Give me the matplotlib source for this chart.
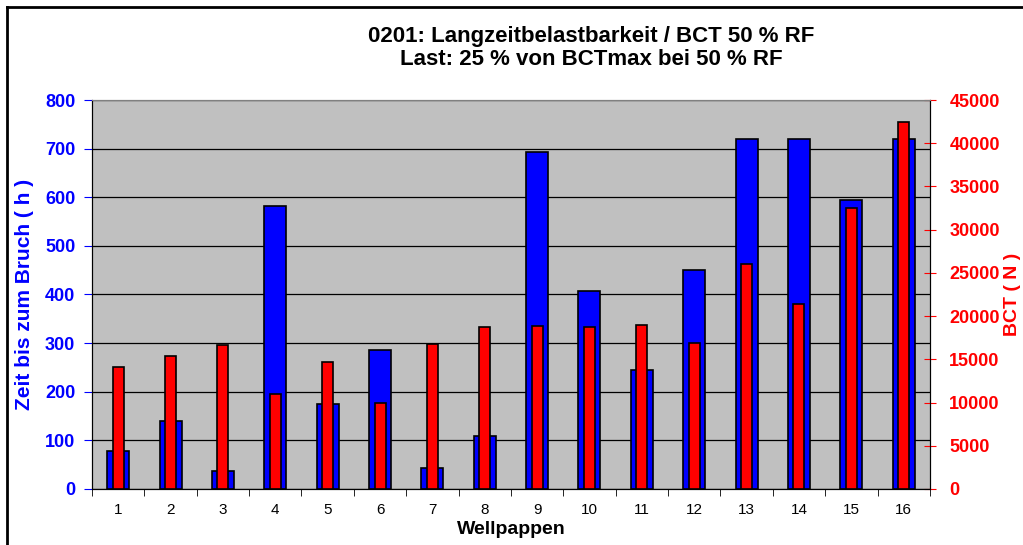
import numpy as np
import matplotlib.pyplot as plt
from matplotlib.lines import Line2D

plt.rcParams['font.family'] = ['Liberation Sans', 'DejaVu Sans']

# data
wellpappen = [str(i) for i in range(1, 17)]
zeit_h = [78, 140, 37, 582, 175, 285, 44, 108, 694, 408, 244, 450, 720, 720, 594, 720]
bct_n = [14150, 15390, 16630, 10980, 14700, 9980, 16790, 18720,
         18870, 18790, 18990, 16900, 26070, 21430, 32560, 42460]

fig = plt.figure(figsize=(10.23, 5.45), dpi=100)
ax = fig.add_axes([0.0899, 0.1028, 0.8191, 0.7137])
ax.set_facecolor('#C0C0C0')

x = np.arange(len(wellpappen))
ax.bar(x, zeit_h, width=0.42, color='#0000FF', edgecolor='black', linewidth=1.2, zorder=3)
ax.set_xlim(-0.5, len(wellpappen) - 0.5)
ax.set_ylim(0, 800)
ax.set_yticks(range(0, 801, 100))
ax.yaxis.grid(True, color='black', linewidth=0.9, zorder=0)
ax.set_axisbelow(True)
ax.tick_params(axis='y', colors='#0000FF', labelsize=13, direction='out', length=6, pad=6)
for lab in ax.get_yticklabels():
    lab.set_fontweight('bold')
ax.set_xticks(x)
ax.set_xticklabels(wellpappen, fontsize=11)
ax.set_xticks(np.arange(-0.5, len(wellpappen)), minor=True)
ax.tick_params(axis='x', which='major', length=0, pad=10)
ax.tick_params(axis='x', which='minor', length=5, direction='out')
ax.set_xlabel('Wellpappen', fontsize=14, fontweight='bold', labelpad=3)
ax.set_ylabel('Zeit bis zum Bruch ( h )', color='#0000FF', fontsize=15, fontweight='bold', labelpad=8)

ax2 = ax.twinx()
ax2.bar(x, bct_n, width=0.21, color='#FF0000', edgecolor='black', linewidth=1.2, zorder=3)
ax2.set_ylim(0, 45000)
ax2.set_yticks(range(0, 45001, 5000))
ax2.tick_params(axis='y', colors='#FF0000', labelsize=13, direction='inout', length=8, pad=10)
for lab in ax2.get_yticklabels():
    lab.set_fontweight('bold')
ax2.set_ylabel('BCT ( N )', color='#FF0000', fontsize=14, fontweight='bold', labelpad=3)

for a in (ax, ax2):
    for s in a.spines.values():
        s.set_color('#808080')
    a.spines['bottom'].set_color('black')
    a.spines['right'].set_color('black')
    a.spines['left'].set_color('black')

fig.text(0.578, 0.933, '0201: Langzeitbelastbarkeit / BCT 50 % RF', ha='center', va='center',
         fontsize=16, fontweight='bold')
fig.text(0.578, 0.891, 'Last: 25 % von BCTmax bei 50 % RF', ha='center', va='center',
         fontsize=16, fontweight='bold')

# outer frame (top and left edges only visible)
fig.lines.append(Line2D([7 / 1023, 1.0], [1 - 7 / 545, 1 - 7 / 545], transform=fig.transFigure,
                        color='black', linewidth=2))
fig.lines.append(Line2D([7 / 1023, 7 / 1023], [0, 1 - 7 / 545], transform=fig.transFigure,
                        color='black', linewidth=2))

fig.savefig('out.png', dpi=100)
